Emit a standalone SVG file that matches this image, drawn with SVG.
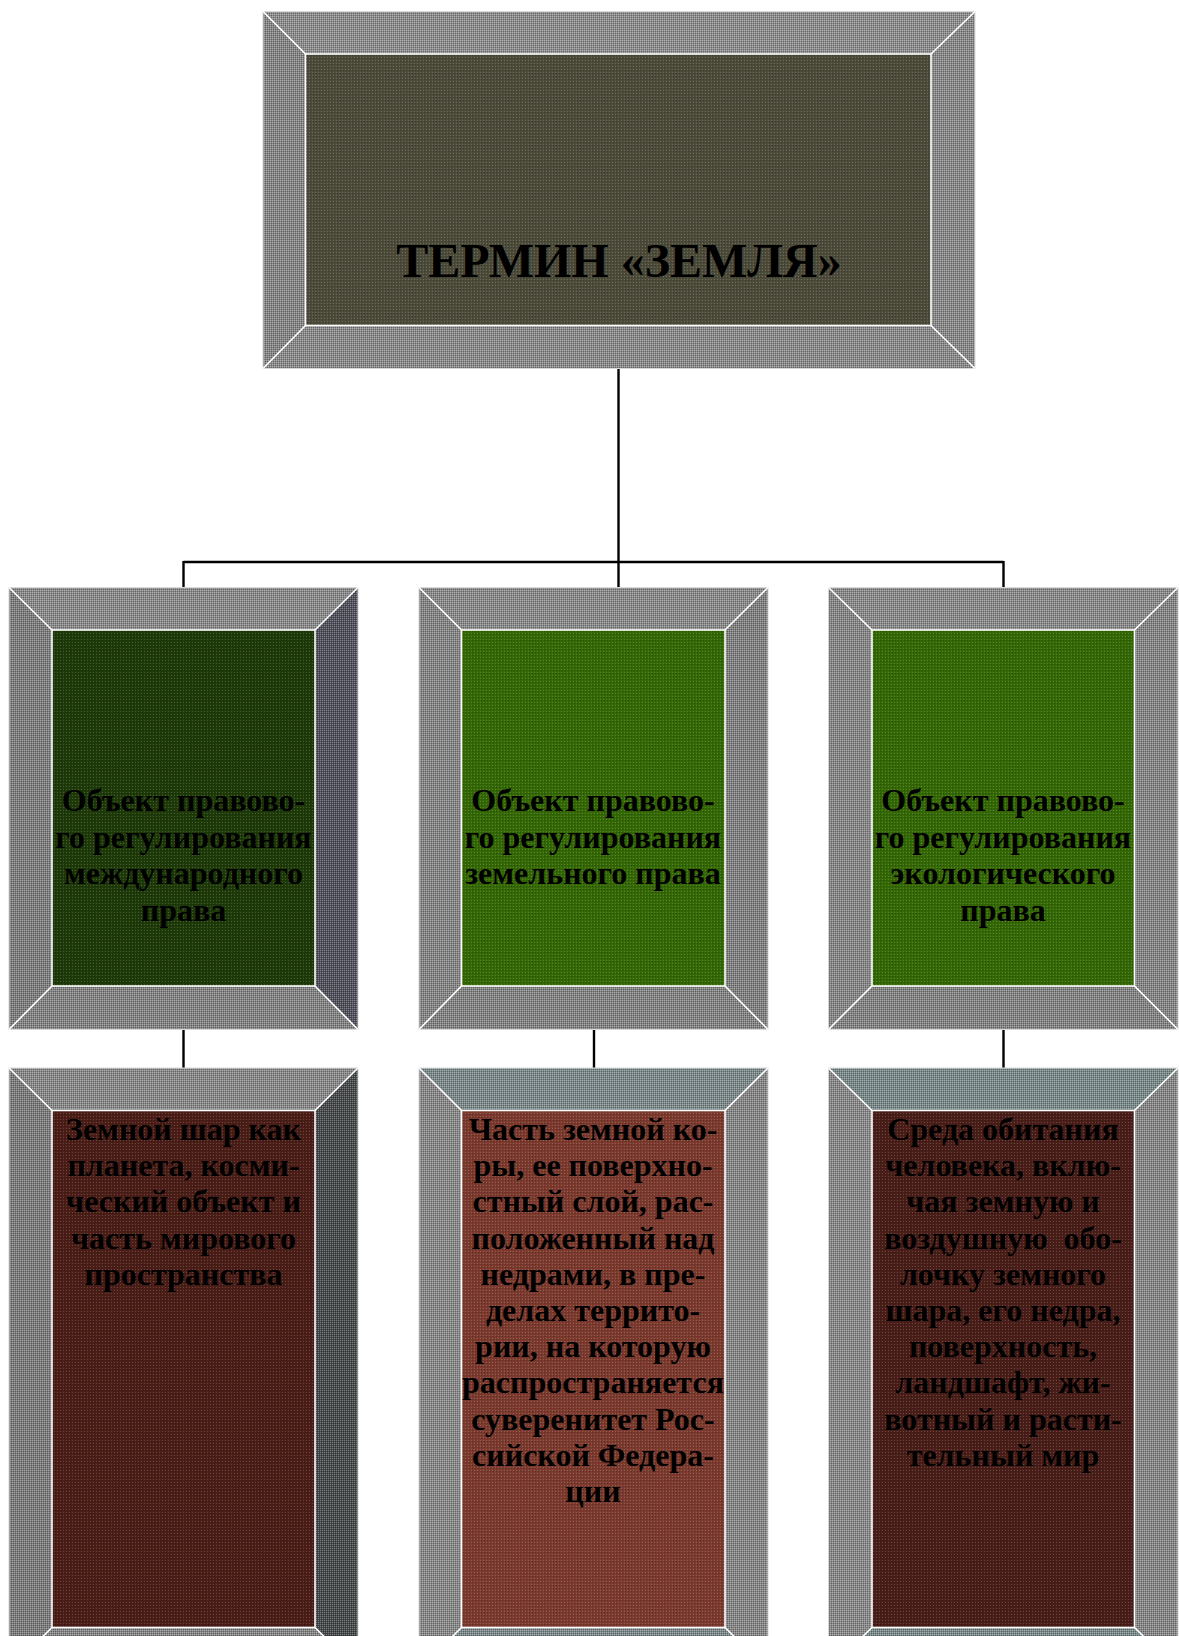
<svg xmlns="http://www.w3.org/2000/svg" width="1179" height="1636" viewBox="0 0 1179 1636">
  <defs>
    <pattern id="dith" width="2" height="2" patternUnits="userSpaceOnUse">
      <rect x="0" y="0" width="1" height="1" fill="#ffffff" fill-opacity="0.28"/>
      <rect x="1" y="1" width="1" height="1" fill="#000000" fill-opacity="0.28"/>
    </pattern>
    <pattern id="dots" width="3" height="3" patternUnits="userSpaceOnUse">
      <rect x="0" y="0" width="1" height="1" fill="#ffffff" fill-opacity="0.18"/>
      <rect x="1" y="1" width="1" height="1" fill="#000000" fill-opacity="0.22"/>
    </pattern>
  </defs>
  <style>
    .hl { fill: none; stroke: #ffffff; stroke-width: 1.6; }
    .ol { fill: none; stroke: #d8d8d8; stroke-width: 1; }
    .tex { fill: url(#dith); }
    .dot { fill: url(#dots); }
    .t { font-family: "Liberation Serif", "Times New Roman", serif; font-weight: bold; fill: #000000; text-anchor: middle; }
    .title { font-size: 48px; }
    .body { font-size: 32px; }
    .conn { fill: none; stroke: #000000; stroke-width: 2.4; }
  </style>
  <rect width="1179" height="1636" fill="#ffffff"/>

  <g id="connectors">
    <path class="conn" d="M618.5 369 V587.5"/>
    <path class="conn" d="M183.5 562 H1003.5"/>
    <path class="conn" d="M183.5 561 V587.5"/>
    <path class="conn" d="M1003.5 561 V587.5"/>
    <path class="conn" d="M183.5 1029.5 V1068"/>
    <path class="conn" d="M594 1029.5 V1068"/>
    <path class="conn" d="M1003.5 1029.5 V1068"/>
  </g>

  <g id="node-term">
    <polygon points="263,11.5 975,11.5 931,54 305.5,54" fill="#8f8f8f"/>
    <polygon points="263,11.5 305.5,54 305.5,325.5 263,368.5" fill="#878787"/>
    <polygon points="975,11.5 975,368.5 931,325.5 931,54" fill="#8a8a8a"/>
    <polygon points="263,368.5 305.5,325.5 931,325.5 975,368.5" fill="#8c8c8c"/>
    <rect x="263" y="11.5" width="712" height="357" class="tex"/>
    <rect x="305.5" y="54" width="625.5" height="271.5" fill="#4c4b3a"/>
    <rect x="305.5" y="54" width="625.5" height="271.5" class="dot"/>
    <rect x="263" y="11.5" width="712" height="357" class="ol"/>
    <path class="hl" d="M263 11.5 L305.5 54 M975 11.5 L931 54 M263 368.5 L305.5 325.5 M975 368.5 L931 325.5"/>
    <rect x="305.5" y="54" width="625.5" height="271.5" class="hl"/>
    <text class="t title" x="619" y="276.5">ТЕРМИН «ЗЕМЛЯ»</text>
  </g>

  <g id="node-intl">
    <polygon points="9,587.5 358,587.5 315,630 52,630" fill="#8c8c8c"/>
    <polygon points="9,587.5 52,630 52,986 9,1029.5" fill="#7f7f7f"/>
    <polygon points="358,587.5 358,1029.5 315,986 315,630" fill="#51525c"/>
    <polygon points="9,1029.5 52,986 315,986 358,1029.5" fill="#858585"/>
    <rect x="9" y="587.5" width="349" height="442" class="tex"/>
    <rect x="52" y="630" width="263" height="356" fill="#1e3a09"/>
    <rect x="52" y="630" width="263" height="356" class="dot"/>
    <rect x="9" y="587.5" width="349" height="442" class="ol"/>
    <path class="hl" d="M9 587.5 L52 630 M358 587.5 L315 630 M9 1029.5 L52 986 M358 1029.5 L315 986"/>
    <rect x="52" y="630" width="263" height="356" class="hl"/>
    <text class="t body"><tspan x="183.5" y="811">Объект правово-</tspan><tspan x="183.5" y="847.5">го регулирования</tspan><tspan x="183.5" y="884">международного</tspan><tspan x="183.5" y="920.5">права</tspan></text>
  </g>

  <g id="node-land">
    <polygon points="419,587.5 768,587.5 725,630 461.5,630" fill="#8c8c8c"/>
    <polygon points="419,587.5 461.5,630 461.5,986 419,1029.5" fill="#878787"/>
    <polygon points="768,587.5 768,1029.5 725,986 725,630" fill="#828282"/>
    <polygon points="419,1029.5 461.5,986 725,986 768,1029.5" fill="#858585"/>
    <rect x="419" y="587.5" width="349" height="442" class="tex"/>
    <rect x="461.5" y="630" width="263.5" height="356" fill="#346804"/>
    <rect x="461.5" y="630" width="263.5" height="356" class="dot"/>
    <rect x="419" y="587.5" width="349" height="442" class="ol"/>
    <path class="hl" d="M419 587.5 L461.5 630 M768 587.5 L725 630 M419 1029.5 L461.5 986 M768 1029.5 L725 986"/>
    <rect x="461.5" y="630" width="263.5" height="356" class="hl"/>
    <text class="t body"><tspan x="593" y="811">Объект правово-</tspan><tspan x="593" y="847.5">го регулирования</tspan><tspan x="593" y="884">земельного права</tspan></text>
  </g>

  <g id="node-eco">
    <polygon points="828.5,587.5 1178,587.5 1134.5,630 872,630" fill="#8c8c8c"/>
    <polygon points="828.5,587.5 872,630 872,986 828.5,1029.5" fill="#888888"/>
    <polygon points="1178,587.5 1178,1029.5 1134.5,986 1134.5,630" fill="#878787"/>
    <polygon points="828.5,1029.5 872,986 1134.5,986 1178,1029.5" fill="#858585"/>
    <rect x="828.5" y="587.5" width="349.5" height="442" class="tex"/>
    <rect x="872" y="630" width="262.5" height="356" fill="#346804"/>
    <rect x="872" y="630" width="262.5" height="356" class="dot"/>
    <rect x="828.5" y="587.5" width="349.5" height="442" class="ol"/>
    <path class="hl" d="M828.5 587.5 L872 630 M1178 587.5 L1134.5 630 M828.5 1029.5 L872 986 M1178 1029.5 L1134.5 986"/>
    <rect x="872" y="630" width="262.5" height="356" class="hl"/>
    <text class="t body"><tspan x="1003" y="811">Объект правово-</tspan><tspan x="1003" y="847.5">го регулирования</tspan><tspan x="1003" y="884">экологического</tspan><tspan x="1003" y="920.5">права</tspan></text>
  </g>

  <g id="node-planet">
    <polygon points="9,1068 358,1068 315,1110.5 52,1110.5" fill="#8a8a8a"/>
    <polygon points="9,1068 52,1110.5 52,1627.5 9,1670" fill="#7d7d7d"/>
    <polygon points="358,1068 358,1670 315,1627.5 315,1110.5" fill="#464a4b"/>
    <polygon points="9,1670 52,1627.5 315,1627.5 358,1670" fill="#878787"/>
    <rect x="9" y="1068" width="349" height="602" class="tex"/>
    <rect x="52" y="1110.5" width="263" height="517" fill="#4a1d17"/>
    <rect x="52" y="1110.5" width="263" height="517" class="dot"/>
    <rect x="9" y="1068" width="349" height="602" class="ol"/>
    <path class="hl" d="M9 1068 L52 1110.5 M358 1068 L315 1110.5 M9 1670 L52 1627.5 M358 1670 L315 1627.5"/>
    <rect x="52" y="1110.5" width="263" height="517" class="hl"/>
    <text class="t body"><tspan x="183.5" y="1140">Земной шар как</tspan><tspan x="183.5" y="1176.2">планета, косми-</tspan><tspan x="183.5" y="1212.4">ческий объект и</tspan><tspan x="183.5" y="1248.6">часть мирового</tspan><tspan x="183.5" y="1284.8">пространства</tspan></text>
  </g>

  <g id="node-crust">
    <polygon points="419,1068 768,1068 725,1110.5 461.5,1110.5" fill="#7e8b8c"/>
    <polygon points="419,1068 461.5,1110.5 461.5,1627.5 419,1670" fill="#8a8a8a"/>
    <polygon points="768,1068 768,1670 725,1627.5 725,1110.5" fill="#888888"/>
    <polygon points="419,1670 461.5,1627.5 725,1627.5 768,1670" fill="#7e8b8c"/>
    <rect x="419" y="1068" width="349" height="602" class="tex"/>
    <rect x="461.5" y="1110.5" width="263.5" height="517" fill="#7b3a2d"/>
    <rect x="461.5" y="1110.5" width="263.5" height="517" class="dot"/>
    <rect x="419" y="1068" width="349" height="602" class="ol"/>
    <path class="hl" d="M419 1068 L461.5 1110.5 M768 1068 L725 1110.5 M419 1670 L461.5 1627.5 M768 1670 L725 1627.5"/>
    <rect x="461.5" y="1110.5" width="263.5" height="517" class="hl"/>
    <text class="t body"><tspan x="593" y="1140">Часть земной ко-</tspan><tspan x="593" y="1176.2">ры, ее поверхно-</tspan><tspan x="593" y="1212.4">стный слой, рас-</tspan><tspan x="593" y="1248.6">положенный над</tspan><tspan x="593" y="1284.8">недрами, в пре-</tspan><tspan x="593" y="1321">делах террито-</tspan><tspan x="593" y="1357.2">рии, на которую</tspan><tspan x="593" y="1393.4">распространяется</tspan><tspan x="593" y="1429.6">суверенитет Рос-</tspan><tspan x="593" y="1465.8">сийской Федера-</tspan><tspan x="593" y="1502">ции</tspan></text>
  </g>

  <g id="node-habitat">
    <polygon points="828.5,1068 1178,1068 1134.5,1110.5 872,1110.5" fill="#7b8a8b"/>
    <polygon points="828.5,1068 872,1110.5 872,1627.5 828.5,1670" fill="#8a8a8a"/>
    <polygon points="1178,1068 1178,1670 1134.5,1627.5 1134.5,1110.5" fill="#888888"/>
    <polygon points="828.5,1670 872,1627.5 1134.5,1627.5 1178,1670" fill="#7b8a8b"/>
    <rect x="828.5" y="1068" width="349.5" height="602" class="tex"/>
    <rect x="872" y="1110.5" width="262.5" height="517" fill="#4a1e18"/>
    <rect x="872" y="1110.5" width="262.5" height="517" class="dot"/>
    <rect x="828.5" y="1068" width="349.5" height="602" class="ol"/>
    <path class="hl" d="M828.5 1068 L872 1110.5 M1178 1068 L1134.5 1110.5 M828.5 1670 L872 1627.5 M1178 1670 L1134.5 1627.5"/>
    <rect x="872" y="1110.5" width="262.5" height="517" class="hl"/>
    <text class="t body"><tspan x="1003" y="1140">Среда обитания</tspan><tspan x="1003" y="1176.2">человека, вклю-</tspan><tspan x="1003" y="1212.4">чая земную и</tspan><tspan x="1003" y="1248.6">воздушную&#160; обо-</tspan><tspan x="1003" y="1284.8">лочку земного</tspan><tspan x="1003" y="1321">шара, его недра,</tspan><tspan x="1003" y="1357.2">поверхность,</tspan><tspan x="1003" y="1393.4">ландшафт, жи-</tspan><tspan x="1003" y="1429.6">вотный и расти-</tspan><tspan x="1003" y="1465.8">тельный мир</tspan></text>
  </g>
</svg>
